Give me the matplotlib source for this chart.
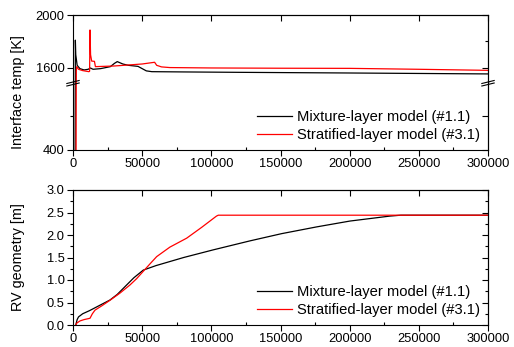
import matplotlib
matplotlib.use("Agg")
import matplotlib.pyplot as plt
from matplotlib.ticker import MultipleLocator, FixedLocator, FormatStrFormatter

plt.rcParams["font.family"] = ["Liberation Sans", "DejaVu Sans"]

# ---- data ----
t_mix = [1500, 1700, 2000, 3000, 5000, 8000, 11000, 12500, 14500, 20000, 27000,
         30000, 32000, 36000, 40000, 47000, 50000, 53000, 57000, 80000, 120000,
         200000, 300000]
temp_mix = [200, 1810, 1700, 1620, 1595, 1585, 1590, 1600, 1590, 1595, 1610,
            1635, 1648, 1630, 1620, 1612, 1595, 1578, 1572, 1570, 1567,
            1562, 1555]

t_str = [2200, 2400, 2700, 4000, 7000, 11500, 12000, 12300, 12700, 13500, 15500,
         16200, 30000, 50000, 59000, 60500, 64000, 70000, 100000, 150000,
         200000, 250000, 300000]
temp_str = [200, 1580, 1610, 1590, 1580, 1572, 1575, 1887, 1700, 1652, 1650,
            1610, 1615, 1630, 1643, 1620, 1608, 1603, 1600, 1598,
            1597, 1590, 1582]

t_rv_mix = [2000, 3000, 4000, 7000, 12000, 19500, 26700, 32000, 38800, 44000,
            50800, 60000, 80000, 101400, 128000, 150800, 176100, 200200, 229000,
            237000, 300000]
rv_mix = [0.0, 0.12, 0.18, 0.25, 0.32, 0.44, 0.555, 0.68, 0.89, 1.05,
          1.22, 1.32, 1.50, 1.67, 1.87, 2.03, 2.18, 2.31, 2.42,
          2.44, 2.44]

t_rv_str = [2000, 2650, 5000, 8000, 12300, 14000, 15900, 21000, 27000, 34000,
            41200, 46000, 51000, 56000, 60500, 70000, 82200, 93000, 103700,
            105000, 300000]
rv_str = [0.0, 0.04, 0.09, 0.12, 0.15, 0.25, 0.33, 0.43, 0.555, 0.71,
          0.89, 1.03, 1.2, 1.37, 1.52, 1.73, 1.93, 2.17, 2.42,
          2.44, 2.44]

labels = ["Mixture-layer model (#1.1)", "Stratified-layer model (#3.1)"]
colors = ["black", "red"]

fig = plt.figure(figsize=(5.14, 3.47), dpi=100)

L, W = 73 / 514, 415 / 514
ax_hi = fig.add_axes([L, 1 - 82 / 347, W, 67 / 347])
ax_lo = fig.add_axes([L, 1 - 150 / 347, W, 68 / 347])
ax_rv = fig.add_axes([L, 1 - 325 / 347, W, 135 / 347])

fs = 9.3
lfs = 10.6


def style(ax):
    ax.set_xlim(0, 300000)
    ax.xaxis.set_major_locator(MultipleLocator(50000))
    ax.xaxis.set_minor_locator(MultipleLocator(25000))
    ax.tick_params(axis="y", which="major", direction="out", length=4, width=0.8,
                   labelsize=fs, pad=2)
    ax.tick_params(axis="y", which="minor", direction="out", length=2, width=0.8)
    ax.tick_params(axis="x", which="major", direction="out", length=4, width=0.8,
                   labelsize=fs, pad=2)
    ax.tick_params(axis="x", which="minor", direction="in", length=2, width=0.8)
    for s in ax.spines.values():
        s.set_linewidth(0.8)


def inner_ticks(ax, maj_y, min_y):
    top = ax.secondary_xaxis("top")
    top.xaxis.set_major_locator(MultipleLocator(50000))
    top.tick_params(direction="in", length=4, width=0.8, labeltop=False)
    r = ax.secondary_yaxis("right")
    r.yaxis.set_major_locator(maj_y)
    r.yaxis.set_minor_locator(min_y)
    r.tick_params(which="major", direction="in", length=4, width=0.8, labelright=False)
    r.tick_params(which="minor", direction="in", length=2, width=0.8)
    return top


# ---- top panel (broken y axis) ----
for ax in (ax_hi, ax_lo):
    ax.plot(t_mix, temp_mix, color=colors[0], lw=0.9, label=labels[0])
    ax.plot(t_str, temp_str, color=colors[1], lw=0.9, label=labels[1])
    style(ax)

ax_hi.set_ylim(1494, 2000)
ax_hi.yaxis.set_major_locator(FixedLocator([1600, 2000]))
ax_hi.yaxis.set_minor_locator(FixedLocator([1800]))
ax_hi.spines["bottom"].set_visible(False)
ax_hi.tick_params(axis="x", which="both", bottom=False, labelbottom=False)
ax_hi.tick_params(axis="y", which="minor", length=0)

ax_lo.set_ylim(400, 1200)
ax_lo.yaxis.set_major_locator(FixedLocator([400]))
ax_lo.yaxis.set_minor_locator(FixedLocator([800]))
ax_lo.spines["top"].set_visible(False)

inner_ticks(ax_hi, FixedLocator([1600, 2000]), FixedLocator([1800]))
r = ax_lo.secondary_yaxis("right")
r.yaxis.set_major_locator(FixedLocator([400, 800]))
r.tick_params(direction="in", length=4, width=0.8, labelright=False)

# break marks
for xb in (0, 1):
    for y0 in (83.5, 86):
        fig.add_artist(plt.Line2D([L + xb * W - 0.012, L + xb * W + 0.012],
                                  [1 - y0 / 347, 1 - (y0 - 3) / 347],
                                  color="black", lw=0.8,
                                  transform=fig.transFigure))

ax_lo.legend(loc="lower right", frameon=False, fontsize=lfs, handlelength=2.4,
             handletextpad=0.3, borderaxespad=0.15, labelspacing=0.25)

# ---- bottom panel ----
ax_rv.plot(t_rv_mix, rv_mix, color=colors[0], lw=0.9, label=labels[0])
ax_rv.plot(t_rv_str, rv_str, color=colors[1], lw=0.9, label=labels[1])
style(ax_rv)
ax_rv.set_ylim(0, 3.0)
ax_rv.yaxis.set_major_locator(MultipleLocator(0.5))
ax_rv.yaxis.set_minor_locator(MultipleLocator(0.25))
ax_rv.yaxis.set_major_formatter(FormatStrFormatter("%.1f"))
inner_ticks(ax_rv, MultipleLocator(0.5), MultipleLocator(0.25))
ax_rv.legend(loc="lower right", frameon=False, fontsize=lfs, handlelength=2.4,
             handletextpad=0.3, borderaxespad=0.15, labelspacing=0.25)

fig.text(18 / 514, 1 - 92 / 347, "Interface temp [K]", rotation=90,
         ha="center", va="center", fontsize=10.4)
fig.text(18 / 514, 1 - 257 / 347, "RV geometry [m]", rotation=90,
         ha="center", va="center", fontsize=10.4)

fig.savefig("out.png", dpi=100)
